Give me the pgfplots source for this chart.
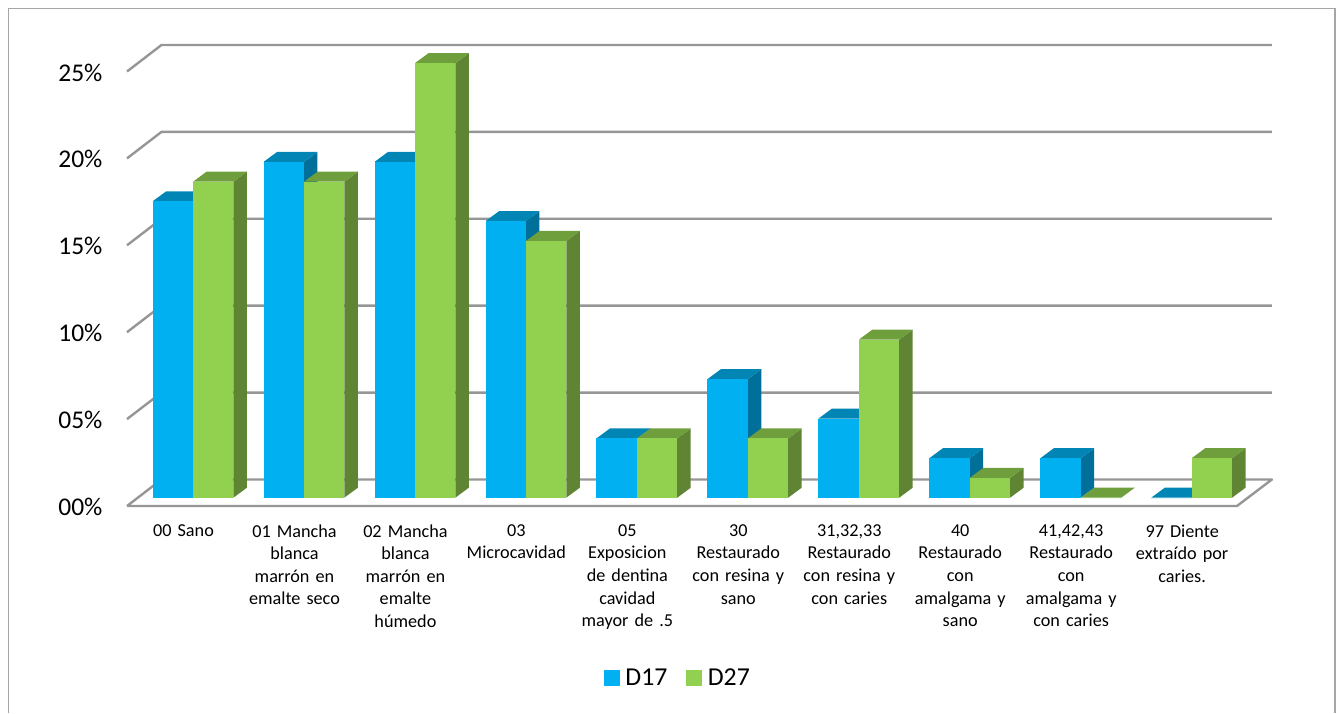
\documentclass[border=0pt]{standalone}
\usepackage{fontspec}
\setmainfont{Carlito}
\usepackage{pgfplots}
\pgfplotsset{compat=1.18}

\definecolor{bluefront}{HTML}{00B0F0}
\definecolor{bluetop}{HTML}{0085B5}
\definecolor{blueside}{HTML}{00709A}
\definecolor{greenfront}{HTML}{92D050}
\definecolor{greentop}{HTML}{6F9E3D}
\definecolor{greenside}{HTML}{5F8433}
\definecolor{wallgrey}{HTML}{969696}
\definecolor{framegrey}{HTML}{A6A6A6}

% Bar geometry in axis units: width of one bar, depth offsets of the top and side faces
\def\barw{0.364}
\def\depx{0.1217}
\def\depy{0.575}
% Axis position of the floor relative to the foot of the bars
\def\front{-0.478}
\def\back{1.047}
\def\wallx{-0.2839}
\def\axl{-0.5948}
\def\axr{9.7234}
\def\floorr{9.408}

% One bar drawn as three faces: side, top, front
\newcommand{\prism}[3]{% left edge, value, face colour stem
  \pgfmathsetmacro\xa{#1}
  \pgfmathsetmacro\xb{#1+\barw}
  \pgfmathsetmacro\xc{#1+\depx}
  \pgfmathsetmacro\xd{#1+\barw+\depx}
  \pgfmathsetmacro\yt{#2+\depy}
  \edef\temp{%
    \noexpand\addplot[fill=#3side,draw=none,forget plot] coordinates {(\xb,0) (\xd,\depy) (\xd,\yt) (\xb,#2)};
    \noexpand\addplot[fill=#3top,draw=none,forget plot] coordinates {(\xa,#2) (\xb,#2) (\xd,\yt) (\xc,\yt)};
    \noexpand\addplot[fill=#3front,draw=none,forget plot] coordinates {(\xa,0) (\xb,0) (\xb,#2) (\xa,#2)};
  }\temp
}
\newcommand{\category}[3]{% index, D17, D27
  \pgfmathsetmacro\lft{#1-\barw}
  \prism{\lft}{#2}{blue}
  \prism{#1}{#3}{green}
}
% Back wall line for one tick value
\newcommand{\wall}[1]{%
  \pgfmathsetmacro\yf{#1+\front}
  \pgfmathsetmacro\yb{#1+\back}
  \edef\temp{\noexpand\addplot[wallgrey,line width=2.4pt,forget plot,line join=round] coordinates {(\axl,\yf) (\wallx,\yb) (\axr,\yb)};}\temp
}

\begin{document}
\begin{tikzpicture}[x=1pt,y=1pt]
\path[use as bounding box] (0,0) rectangle (1341,713);
\draw[framegrey,line width=1.6pt] (8.5,0) -- (8.5,704.5) -- (1335,704.5) -- (1335,0);
\begin{axis}[
  at={(127pt,207pt)}, anchor=south west,
  scale only axis, width=1145pt, height=461pt,
  xmin=\axl, xmax=\axr, ymin=\front, ymax=26.047,
  clip=false,
  axis line style={draw=none},
  tick style={draw=none},
  xtick={0,1,...,9},
  xticklabels={
    {00 Sano},
    {01 Mancha\\blanca\\marrón en\\emalte seco},
    {02 Mancha\\blanca\\marrón en\\emalte\\húmedo},
    {03\\Microcavidad},
    {05\\Exposicion\\de dentina\\cavidad\\mayor de .5},
    {30\\Restaurado\\con resina y\\sano},
    {31,32,33\\Restaurado\\con resina y\\con caries},
    {40\\Restaurado\\con\\amalgama y\\sano},
    {41,42,43\\Restaurado\\con\\amalgama y\\con caries},
    {97 Diente\\extraído por\\caries.}},
  xticklabel style={align=center,text width=108pt,
    font=\fontsize{18.2}{22.6}\selectfont,xshift=-9.5pt,yshift=-15pt},
  ytick={-0.478,4.522,9.522,14.522,19.522,24.522},
  yticklabels={00\%,05\%,10\%,15\%,20\%,25\%},
  yticklabel style={font=\fontsize{25.5}{30}\selectfont,xshift=-21pt,yshift=-1pt},
  legend columns=2,
  legend style={at={(0.4812,-0.3731)},anchor=center,draw=none,fill=none,
    font=\fontsize{25.8}{30}\selectfont,
    /tikz/every even column/.style={column sep=17pt}},
  legend image code/.code={\fill[#1] (0pt,-7.5pt) rectangle (15pt,7.5pt);\path (19pt,0pt);},
]
\addlegendimage{bluefront}
\addlegendimage{greenfront}
\addlegendentry{D17}
\addlegendentry{D27}

% floor and back wall
\edef\temp{\noexpand\addplot[wallgrey,line width=2.4pt,forget plot,line join=round] coordinates {(\axl,\front) (\floorr,\front) (\axr,\back) (\wallx,\back) (\axl,\front)};}\temp
\wall{5}\wall{10}\wall{15}\wall{20}\wall{25}

% category index, D17 percent, D27 percent
\category{0}{17.05}{18.18}
\category{1}{19.32}{18.18}
\category{2}{19.32}{25.00}
\category{3}{15.91}{14.77}
\category{4}{3.41}{3.41}
\category{5}{6.82}{3.41}
\category{6}{4.55}{9.09}
\category{7}{2.27}{1.14}
\category{8}{2.27}{0}
\category{9}{0}{2.27}
\end{axis}
\end{tikzpicture}
\end{document}
